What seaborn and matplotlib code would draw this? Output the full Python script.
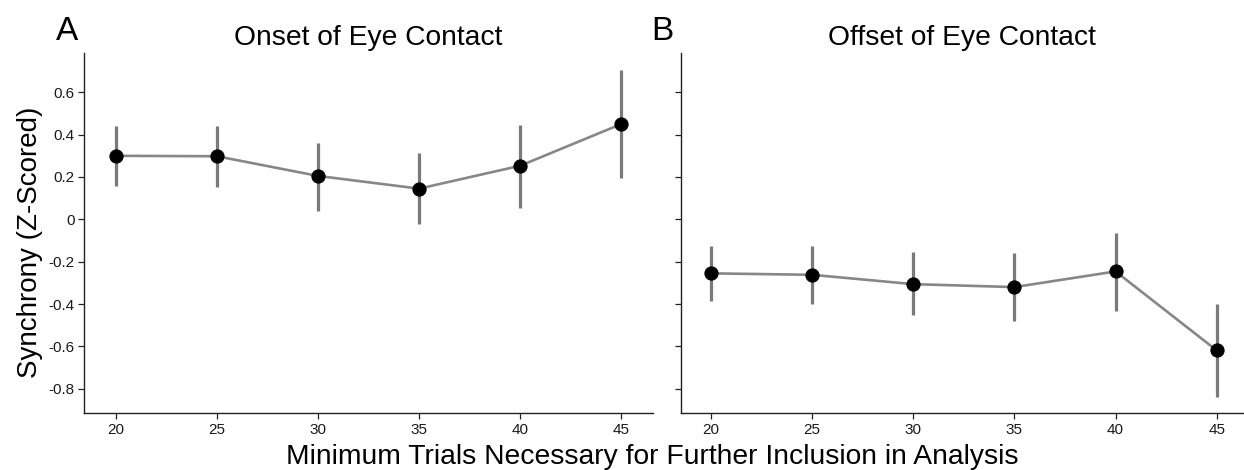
import matplotlib
matplotlib.use('Agg')
import matplotlib.pyplot as plt
from matplotlib.ticker import FuncFormatter
import numpy as np
import pandas as pd
import seaborn as sns

# Données
min_trials = [20, 25, 30, 35, 40, 45]

onset_mean = [0.300, 0.298, 0.205, 0.145, 0.253, 0.450]
onset_low = [0.159, 0.151, 0.041, -0.024, 0.055, 0.194]
onset_high = [0.442, 0.442, 0.362, 0.315, 0.444, 0.705]

offset_mean = [-0.255, -0.262, -0.306, -0.320, -0.246, -0.619]
offset_low = [-0.384, -0.400, -0.453, -0.479, -0.432, -0.838]
offset_high = [-0.126, -0.126, -0.154, -0.161, -0.063, -0.400]

titles = ['Onset of Eye Contact', 'Offset of Eye Contact']
panel_letters = ['A', 'B']

sns.set_style('ticks')
plt.rcParams['font.family'] = ['Liberation Sans', 'DejaVu Sans']
plt.rcParams['axes.unicode_minus'] = False
plt.rcParams['text.color'] = 'black'
plt.rcParams['axes.labelcolor'] = 'black'
plt.rcParams['xtick.labelcolor'] = '#1a1a1a'
plt.rcParams['ytick.labelcolor'] = '#1a1a1a'

fig = plt.figure(figsize=(12.44, 4.70), dpi=100)
ax1 = fig.add_axes([0.0678, 0.1206, 0.4569, 0.7673])
ax2 = fig.add_axes([0.5472, 0.1206, 0.4520, 0.7673], sharey=ax1)

panels = [
    (ax1, onset_mean, onset_low, onset_high, (18.44, 46.56)),
    (ax2, offset_mean, offset_low, offset_high, (18.50, 46.30)),
]

for i, (ax, mean, low, high, xlim) in enumerate(panels):
    df = pd.DataFrame({'trials': min_trials, 'synchrony': mean})
    # barres d'erreur
    ax.vlines(min_trials, low, high, color='#7a7a7a', linewidth=2.3, zorder=2)
    # ligne + points
    sns.lineplot(data=df, x='trials', y='synchrony', ax=ax, color='#878787',
                 linewidth=1.9, marker='o', markersize=9.5,
                 markerfacecolor='black', markeredgecolor='black', zorder=3)
    ax.set_xlim(*xlim)
    ax.set_xticks(min_trials)
    ax.set_xlabel('')
    ax.set_ylabel('')
    ax.set_title(titles[i], fontsize=20.3, pad=5.5, color='black')
    for side in ['top', 'right']:
        ax.spines[side].set_visible(False)
    for side in ['left', 'bottom']:
        ax.spines[side].set_color('#222222')
        ax.spines[side].set_linewidth(1.0)
    ax.tick_params(axis='both', labelsize=11, length=4, width=0.9,
                   color='#222222', pad=2.8)

ax1.set_ylim(-0.916, 0.787)
ax1.set_yticks([-0.8, -0.6, -0.4, -0.2, 0, 0.2, 0.4, 0.6])
ax1.yaxis.set_major_formatter(FuncFormatter(lambda v, p: '0' if abs(v) < 1e-9 else f'{v:.1f}'))
ax2.tick_params(axis='y', labelleft=False)

# lettres des panneaux
fig.text(66.7 / 1244, 1 - 40 / 470, panel_letters[0], fontsize=24, ha='center', va='baseline')
fig.text(662 / 1244, 1 - 40 / 470, panel_letters[1], fontsize=24, ha='center', va='baseline')

# étiquettes communes
fig.text(30 / 1244, 1 - 242 / 470, 'Synchrony (Z-Scored)', fontsize=20,
         rotation=90, ha='center', va='center')
fig.text(652 / 1244, 1 - 464 / 470, 'Minimum Trials Necessary for Further Inclusion in Analysis',
         fontsize=20.3, ha='center', va='baseline')

plt.savefig('out.png', dpi=100)
